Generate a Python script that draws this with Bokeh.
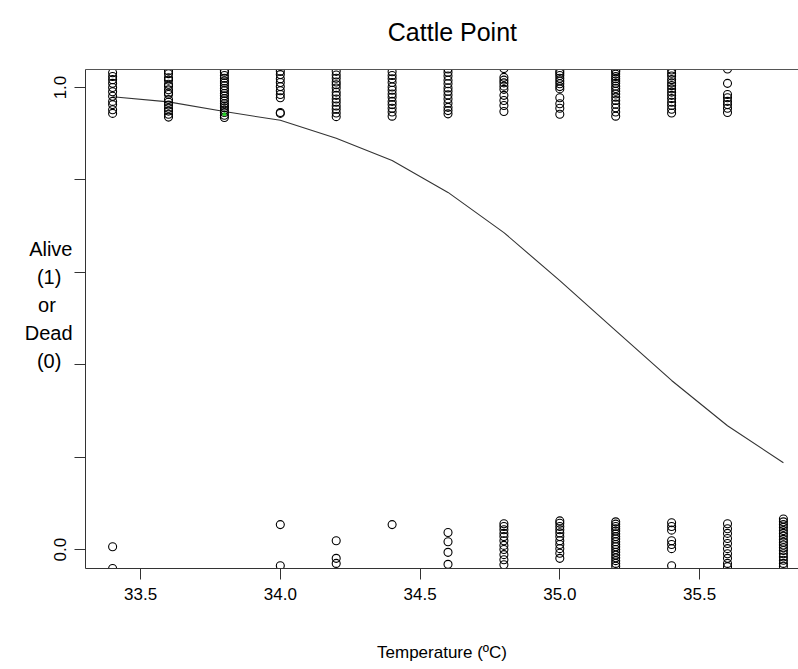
import math
from bokeh.plotting import figure
from bokeh.models import FixedTicker, PrintfTickFormatter, LinearAxis, Range1d
from bokeh.embed import file_html
from bokeh.resources import INLINE

# ---------------- data ----------------
title_text = "Cattle Point"
x_title = "Temperature (ºC)"
y_title_lines = ["Alive", "(1)", "or", "Dead", "(0)"]

temperatures = [33.4, 33.6, 33.8, 34.0, 34.2, 34.4, 34.6, 34.8, 35.0, 35.2, 35.4, 35.6, 35.8]
fitted_prob = [0.980, 0.969, 0.948, 0.929, 0.890, 0.842, 0.773, 0.686, 0.582, 0.474, 0.366, 0.268, 0.188]

# jittered positions of the alive (1) observations
alive_y = {
    33.4: [1.032, 1.024, 1.017, 1.009, 1.000, 0.991, 0.981, 0.970, 0.963, 0.952, 0.944],
    33.6: [1.036, 1.030, 1.021, 1.016, 1.007, 1.003, 0.995, 0.988, 0.985, 0.974, 0.968, 0.962, 0.955, 0.949, 0.942, 0.936],
    33.8: [1.036, 1.033, 1.026, 1.020, 1.014, 1.010, 1.004, 0.998, 0.993, 0.987, 0.982, 0.976, 0.971, 0.965, 0.960, 0.956, 0.951, 0.946, 0.940, 0.935],
    34.0: [1.035, 1.028, 1.019, 1.011, 1.002, 0.993, 0.985, 0.978, 0.946, 0.944],
    34.2: [1.035, 1.027, 1.020, 1.012, 1.006, 0.999, 0.990, 0.983, 0.975, 0.968, 0.960, 0.953, 0.945, 0.937],
    34.4: [1.034, 1.026, 1.019, 1.011, 1.001, 0.994, 0.986, 0.979, 0.970, 0.963, 0.955, 0.947, 0.938],
    34.6: [1.040, 1.033, 1.025, 1.016, 1.008, 0.999, 0.992, 0.984, 0.975, 0.966, 0.957, 0.950, 0.943],
    34.8: [1.041, 1.022, 1.016, 1.010, 1.003, 0.996, 0.983, 0.972, 0.961, 0.948],
    35.0: [1.035, 1.031, 1.026, 1.020, 1.014, 1.008, 1.002, 0.997, 0.978, 0.965, 0.955, 0.942],
    35.2: [1.037, 1.034, 1.029, 1.024, 1.019, 1.014, 1.009, 1.003, 0.998, 0.992, 0.986, 0.979, 0.972, 0.964, 0.956, 0.947, 0.938],
    35.4: [1.038, 1.031, 1.025, 1.017, 1.010, 1.004, 0.997, 0.990, 0.983, 0.976, 0.968, 0.961, 0.953, 0.945],
    35.6: [1.040, 1.009, 0.985, 0.978, 0.970, 0.963, 0.955, 0.946],
    35.8: [],
}

# jittered positions of the dead (0) observations
dead_y = {
    33.4: [0.006, -0.041],
    33.6: [],
    33.8: [],
    34.0: [0.054, -0.035],
    34.2: [0.019, -0.019, -0.030],
    34.4: [0.054],
    34.6: [0.037, 0.017, -0.006, -0.032],
    34.8: [0.056, 0.050, 0.043, 0.035, 0.028, 0.019, 0.009, 0.000, -0.011, -0.022, -0.033],
    35.0: [0.062, 0.057, 0.050, 0.043, 0.036, 0.028, 0.019, 0.011, 0.002, -0.008, -0.019],
    35.2: [0.060, 0.055, 0.050, 0.045, 0.040, 0.034, 0.028, 0.023, 0.017, 0.011, 0.006, 0.000, -0.006, -0.012, -0.018, -0.024, -0.030, -0.036],
    35.4: [0.058, 0.050, 0.042, 0.019, 0.011, 0.002, -0.035],
    35.6: [0.056, 0.045, 0.035, 0.024, 0.013, 0.002, -0.009, -0.019, -0.030, -0.037],
    35.8: [0.066, 0.060, 0.054, 0.048, 0.041, 0.035, 0.029, 0.022, 0.016, 0.010, 0.004, -0.002, -0.009, -0.016, -0.023, -0.030, -0.036],
}

highlight_x = [33.8]
highlight_y = [0.942]

x_ticks = [33.5, 34.0, 34.5, 35.0, 35.5]
y_ticks = [0.0, 1.0]
y_minor_ticks = [0.2, 0.4, 0.6, 0.8]

# ---------------- layout ----------------
W, H = 798, 669
L, T, B, R = 85, 69, 101, 0
X0, X1 = 33.303, 35.854
Y0, Y1 = -0.041, 1.039
FONT = "Liberation Sans"
NBSP = "\u00a0"

p = figure(width=W, height=H, x_range=Range1d(X0, X1), y_range=Range1d(Y0, Y1),
           output_backend="svg", toolbar_location=None,
           x_axis_type=None, y_axis_type=None,
           min_border_left=L, min_border_right=R, min_border_top=T, min_border_bottom=B)
p.outline_line_color = None
p.background_fill_color = "white"
p.border_fill_color = "white"

axis_col = "#333333"

xa = LinearAxis(ticker=FixedTicker(ticks=x_ticks, minor_ticks=[]),
                formatter=PrintfTickFormatter(format="%.1f"))
xa.axis_line_color = axis_col
xa.major_tick_line_color = axis_col
xa.major_tick_in = 0
xa.major_tick_out = 11
xa.minor_tick_line_color = None
xa.major_label_standoff = 8
xa.major_label_text_font = FONT
xa.major_label_text_font_size = "17px"
xa.major_label_text_color = "black"
xa.axis_label = x_title
xa.axis_label_standoff = 40
xa.axis_label_text_font = FONT
xa.axis_label_text_font_size = "17px"
xa.axis_label_text_font_style = "normal"
xa.axis_label_text_color = "black"
p.add_layout(xa, "below")

# the axis label is right-justified when horizontal; pad shorter lines so each is centred
pad = {"Alive": 0, "(1)": 2, "or": 3, "Dead": 0, "(0)": 2}
y_label = "\n".join(s + NBSP * pad[s] for s in y_title_lines) + "\n" + NBSP

ya = LinearAxis(ticker=FixedTicker(ticks=y_ticks, minor_ticks=y_minor_ticks),
                formatter=PrintfTickFormatter(format="%.1f"))
ya.axis_line_color = axis_col
ya.major_tick_line_color = axis_col
ya.minor_tick_line_color = axis_col
ya.major_tick_in = 0
ya.major_tick_out = 11
ya.minor_tick_in = 0
ya.minor_tick_out = 11
ya.major_label_standoff = 8
ya.major_label_orientation = "parallel"
ya.major_label_text_font = FONT
ya.major_label_text_font_size = "17px"
ya.major_label_text_color = "black"
ya.axis_label = y_label
ya.axis_label_orientation = "horizontal"
ya.axis_label_standoff = -21
ya.axis_label_text_font = FONT
ya.axis_label_text_font_size = "20px"
ya.axis_label_text_font_style = "normal"
ya.axis_label_text_color = "black"
ya.axis_label_text_line_height = 1.28
p.add_layout(ya, "left")

# top frame line, carrying the chart title as its label (shifted right like the original)
ta = LinearAxis(ticker=FixedTicker(ticks=[], minor_ticks=[]))
ta.axis_line_color = "#555555"
ta.axis_line_width = 1.2
ta.major_tick_line_color = None
ta.minor_tick_line_color = None
ta.major_tick_out = 0
ta.major_tick_in = 0
ta.major_label_text_font_size = "0px"
ta.axis_label = NBSP * 3 + title_text
ta.axis_label_standoff = 24
ta.axis_label_text_font = FONT
ta.axis_label_text_font_size = "25px"
ta.axis_label_text_font_style = "normal"
ta.axis_label_text_color = "black"
p.add_layout(ta, "above")

# fitted curve
p.line(temperatures, fitted_prob, line_color="#333333", line_width=1.1)

# observations
ax, ay, dxs, dys = [], [], [], []
for t in temperatures:
    for v in alive_y[t]:
        ax.append(t)
        ay.append(v)
    for v in dead_y[t]:
        dxs.append(t)
        dys.append(v)

p.scatter(ax, ay, marker="circle", size=8, fill_color=None, line_color="black", line_width=1.1)
p.scatter(dxs, dys, marker="circle", size=8, fill_color=None, line_color="black", line_width=1.1)
p.scatter(highlight_x, highlight_y, marker="circle", size=3, fill_color="#22cc22", line_color="#22cc22")

open("out.html", "w").write(file_html(p, INLINE))
